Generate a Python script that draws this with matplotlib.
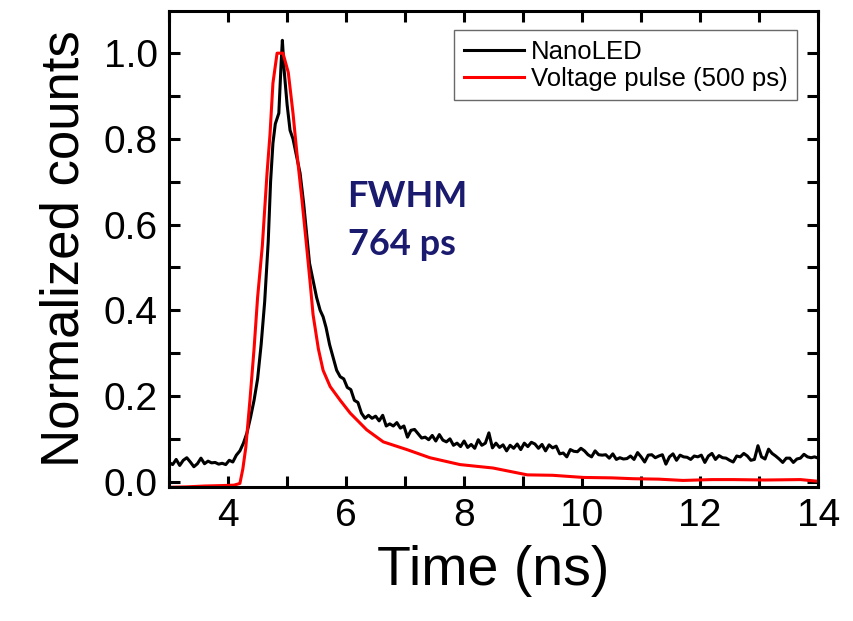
import numpy as np
import matplotlib.pyplot as plt
from matplotlib.ticker import MultipleLocator

# NanoLED response
nanoled_t = [3.0, 3.06, 3.12, 3.18, 3.24, 3.3, 3.36, 3.42, 3.48, 3.54, 3.6, 3.66, 3.72, 3.78,
             3.84, 3.9, 3.96, 4.02, 4.08, 4.14, 4.2, 4.26, 4.32, 4.38, 4.44, 4.5, 4.56, 4.62,
             4.68, 4.72, 4.76, 4.8, 4.86, 4.9, 4.92, 4.95, 5.0, 5.05, 5.1, 5.16, 5.22, 5.28,
             5.33, 5.38, 5.44, 5.5, 5.56, 5.61, 5.66, 5.72, 5.78, 5.84, 5.9, 5.96, 6.02, 6.08,
             6.14, 6.2, 6.26, 6.32, 6.38, 6.44, 6.5, 6.56, 6.62, 6.68, 6.74, 6.8, 6.86, 6.92,
             6.98, 7.04, 7.1, 7.16, 7.22, 7.28, 7.34, 7.4, 7.46, 7.52, 7.58, 7.64, 7.7, 7.76,
             7.82, 7.88, 7.94, 8.0, 8.06, 8.12, 8.18, 8.24, 8.3, 8.36, 8.42, 8.48, 8.54, 8.6,
             8.66, 8.72, 8.78, 8.84, 8.9, 8.96, 9.02, 9.08, 9.14, 9.2, 9.26, 9.32, 9.38, 9.44,
             9.5, 9.56, 9.62, 9.68, 9.74, 9.8, 9.86, 9.92, 9.98, 10.04, 10.1, 10.16, 10.22,
             10.28, 10.34, 10.4, 10.46, 10.52, 10.58, 10.64, 10.7, 10.76, 10.82, 10.88, 10.94,
             11.0, 11.06, 11.12, 11.18, 11.24, 11.3, 11.36, 11.42, 11.48, 11.54, 11.6, 11.66,
             11.72, 11.78, 11.84, 11.9, 11.96, 12.02, 12.08, 12.14, 12.2, 12.26, 12.32, 12.38,
             12.44, 12.5, 12.56, 12.62, 12.68, 12.74, 12.8, 12.86, 12.92, 12.98, 13.04, 13.1,
             13.16, 13.22, 13.28, 13.34, 13.4, 13.46, 13.52, 13.58, 13.64, 13.7, 13.76, 13.82,
             13.88, 13.94, 14.0]
nanoled_v = [0.045, 0.04, 0.052, 0.038, 0.05, 0.056, 0.046, 0.035, 0.042, 0.055, 0.042, 0.048,
             0.044, 0.045, 0.041, 0.043, 0.04, 0.05, 0.046, 0.062, 0.072, 0.09, 0.114, 0.15,
             0.19, 0.24, 0.32, 0.42, 0.56, 0.70, 0.79, 0.835, 0.86, 0.98, 1.03, 0.96, 0.88,
             0.82, 0.80, 0.76, 0.72, 0.65, 0.58, 0.51, 0.47, 0.43, 0.40, 0.385, 0.36, 0.32,
             0.29, 0.26, 0.245, 0.24, 0.22, 0.215, 0.19, 0.185, 0.16, 0.148, 0.155, 0.148,
             0.153, 0.142, 0.155, 0.13, 0.135, 0.13, 0.138, 0.125, 0.13, 0.104, 0.12, 0.122,
             0.112, 0.102, 0.104, 0.098, 0.108, 0.095, 0.11, 0.097, 0.093, 0.1, 0.085, 0.09,
             0.082, 0.095, 0.08, 0.087, 0.078, 0.098, 0.085, 0.09, 0.114, 0.079, 0.09, 0.08,
             0.086, 0.072, 0.085, 0.078, 0.088, 0.075, 0.09, 0.082, 0.092, 0.088, 0.078, 0.087,
             0.072, 0.086, 0.079, 0.083, 0.065, 0.067, 0.058, 0.075, 0.071, 0.07, 0.078, 0.072,
             0.063, 0.058, 0.072, 0.063, 0.062, 0.063, 0.055, 0.065, 0.052, 0.056, 0.053,
             0.054, 0.06, 0.052, 0.068, 0.058, 0.046, 0.062, 0.063, 0.056, 0.06, 0.063, 0.041,
             0.058, 0.065, 0.05, 0.062, 0.058, 0.057, 0.052, 0.06, 0.058, 0.062, 0.045, 0.06,
             0.066, 0.052, 0.061, 0.056, 0.055, 0.05, 0.046, 0.06, 0.058, 0.066, 0.06, 0.05,
             0.052, 0.084, 0.058, 0.053, 0.076, 0.066, 0.06, 0.053, 0.045, 0.055, 0.055, 0.045,
             0.053, 0.055, 0.064, 0.058, 0.056, 0.058, 0.055]

# Voltage pulse (500 ps)
pulse_t = [3.0, 3.3, 3.6, 3.9, 4.1, 4.2, 4.25, 4.3, 4.37, 4.44, 4.5, 4.58, 4.66, 4.71, 4.76,
           4.83, 4.93, 5.02, 5.1, 5.16, 5.25, 5.33, 5.39, 5.44, 5.53, 5.61, 5.73, 5.9, 6.07,
           6.35, 6.63, 7.03, 7.42, 7.93, 8.49, 8.78, 9.07, 9.5, 10.02, 10.5, 10.87, 11.3,
           11.71, 12.2, 12.56, 13.1, 13.7, 14.0]
pulse_v = [-0.013, -0.012, -0.01, -0.009, -0.008, -0.004, 0.03, 0.08, 0.19, 0.31, 0.43, 0.55,
           0.72, 0.81, 0.93, 1.0, 1.0, 0.955, 0.86, 0.775, 0.66, 0.55, 0.465, 0.39, 0.31,
           0.26, 0.222, 0.19, 0.16, 0.121, 0.093, 0.075, 0.056, 0.04, 0.032, 0.024, 0.016,
           0.015, 0.01, 0.009, 0.007, 0.006, 0.003, 0.005, 0.005, 0.004, 0.005, 0.001]

plt.rcParams['font.family'] = ['Liberation Sans', 'DejaVu Sans']

fig = plt.figure(figsize=(8.54, 6.21), dpi=100)
ax = fig.add_axes([0.198, 0.216, 0.76, 0.766])

ax.plot(nanoled_t, nanoled_v, color='black', lw=2.2, label='NanoLED')
ax.plot(pulse_t, pulse_v, color='#ff0000', lw=2.2, label='Voltage pulse (500 ps)')

ax.set_xlim(3, 14)
ax.set_ylim(-0.012, 1.098)
ax.xaxis.set_major_locator(MultipleLocator(2))
ax.xaxis.set_minor_locator(MultipleLocator(1))
ax.yaxis.set_major_locator(MultipleLocator(0.2))
ax.yaxis.set_minor_locator(MultipleLocator(0.1))
ax.yaxis.set_major_formatter(plt.FuncFormatter(lambda v, p: f"{v:.1f}"))

for s in ax.spines.values():
    s.set_linewidth(2.2)
ax.tick_params(which='both', direction='in', top=True, right=True,
               length=8, width=2.2, labelsize=28, pad=8)

ax.set_xlabel('Time (ns)', fontsize=40, labelpad=8)
ax.set_ylabel('Normalized counts', fontsize=38, labelpad=10)

ax.text(0.275, 0.645, 'FWHM\n764 ps', transform=ax.transAxes, fontsize=26,
        fontweight='bold', color='#1a1a6e', family=['Lato', 'DejaVu Sans'],
        linespacing=1.55, va='top')

leg = ax.legend(loc='upper right', fontsize=18.5, frameon=True, fancybox=False,
                handlelength=2.35, handletextpad=0.25, borderpad=0.38,
                labelspacing=0.1, borderaxespad=0,
                bbox_to_anchor=(0.968, 0.96))
leg.get_frame().set_edgecolor('#444444')
leg.get_frame().set_linewidth(1.0)

fig.savefig('out.png', dpi=100)
